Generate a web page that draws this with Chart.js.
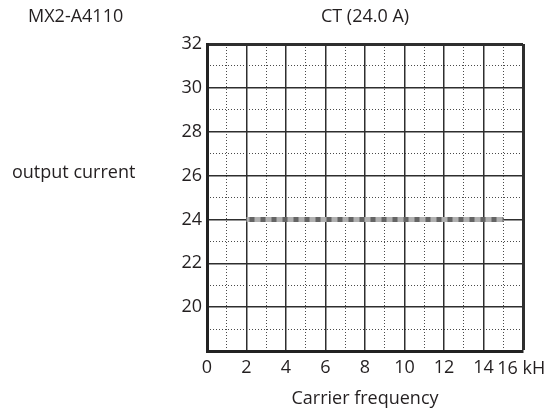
<!DOCTYPE html>
<html>
<head>
<meta charset="utf-8">
<script src="https://cdn.jsdelivr.net/npm/chart.js@4/dist/chart.umd.min.js"></script>
<style>
  html, body { margin: 0; padding: 0; background: #fff; }
  #wrap { width: 551px; height: 417px; }
</style>
</head>
<body>
<div id="wrap"><canvas id="chart" width="551" height="417"></canvas></div>
<script>
// ---------- DATA ----------
const model = "MX2-A4110";
const ratingLabel = "CT (24.0 A)";
const carrierFreq = [2, 15];        // kHz
const outputCurrent = [24, 24];     // A
const xTicks = [0, 2, 4, 6, 8, 10, 12, 14, 16];
const yTicks = [20, 22, 24, 26, 28, 30, 32];
const xMin = 0, xMax = 16, yMin = 18, yMax = 32;

const FONT = "'Open Sans', sans-serif";
const TEXT = "#231f20";

// extra texts (titles, axis names, the "16 kH" label)
const textPlugin = {
    id: "texts",
    afterDraw(chart) {
        const { ctx, chartArea, scales } = chart;
        const mid = (chartArea.left + chartArea.right) / 2;
        ctx.save();
        ctx.fillStyle = TEXT;
        ctx.font = "18px " + FONT;
        ctx.textBaseline = "alphabetic";

        ctx.textAlign = "left";
        ctx.fillText(model, 28, 22);
        ctx.fillText("output current", 12, 178);

        ctx.textAlign = "center";
        ctx.fillText(ratingLabel, mid, 22);
        ctx.fillText("Carrier frequency", mid, 404);

        // last tick label is squeezed left to make room for the unit
        ctx.textAlign = "left";
        ctx.fillText("16 kH", scales.x.getPixelForValue(15) - 6, 374);
        ctx.restore();
    }
};

function mainGrid(limit) {
    return {
        drawTicks: false,
        color: "#2e2e2e",
        lineWidth: c => (c.tick && c.tick.value === limit ? 3 : 1.5)
    };
}

function minorGrid() {
    return {
        drawTicks: false,
        color: c => (c.tick && c.tick.value % 2 ? "#4a4a4a" : "rgba(0,0,0,0)"),
        lineWidth: 1
    };
}

const points = carrierFreq.map((f, i) => ({ x: f, y: outputCurrent[i] }));

new Chart(document.getElementById("chart"), {
    type: "scatter",
    data: {
        datasets: [
            {
                // dark dashes on top
                data: points,
                order: 0,
                showLine: true,
                borderColor: "#646464",
                borderWidth: 5,
                borderDash: [5, 6],
                borderDashOffset: -3,
                borderCapStyle: "butt",
                pointRadius: 0
            },
            {
                // light band underneath
                data: points,
                order: 1,
                showLine: true,
                borderColor: "#b0b0b0",
                borderWidth: 5,
                borderCapStyle: "butt",
                pointRadius: 0
            }
        ]
    },
    options: {
        responsive: false,
        animation: false,
        layout: { padding: { top: 44, right: 28, left: 0, bottom: 0 } },
        plugins: {
            legend: { display: false },
            tooltip: { enabled: false }
        },
        scales: {
            x2: {
                type: "linear", position: "bottom",
                min: xMin, max: xMax,
                ticks: { display: false, stepSize: 1 },
                grid: minorGrid(),
                border: { display: false, dash: [1, 2] },
                afterFit: s => { s.height = 0; }
            },
            y2: {
                type: "linear", position: "left",
                min: yMin, max: yMax,
                ticks: { display: false, stepSize: 1 },
                grid: minorGrid(),
                border: { display: false, dash: [1, 2] },
                afterFit: s => { s.width = 0; }
            },
            x: {
                type: "linear", position: "bottom",
                min: xMin, max: xMax,
                afterBuildTicks: s => { s.ticks = xTicks.map(v => ({ value: v })); },
                ticks: {
                    padding: 6,
                    color: TEXT,
                    font: { family: FONT, size: 18 },
                    maxRotation: 0,
                    callback: v => (v === xMax ? "" : v)
                },
                grid: mainGrid(xMax),
                border: { color: "#222", width: 3 },
                afterFit: s => { s.height = 66; }
            },
            y: {
                type: "linear", position: "left",
                min: yMin, max: yMax,
                afterBuildTicks: s => { s.ticks = yTicks.map(v => ({ value: v })); },
                ticks: {
                    padding: 5,
                    color: TEXT,
                    font: { family: FONT, size: 18 }
                },
                grid: mainGrid(yMax),
                border: { color: "#222", width: 3 },
                afterFit: s => { s.width = 207; }
            }
        }
    },
    plugins: [textPlugin]
});
</script>
</body>
</html>
